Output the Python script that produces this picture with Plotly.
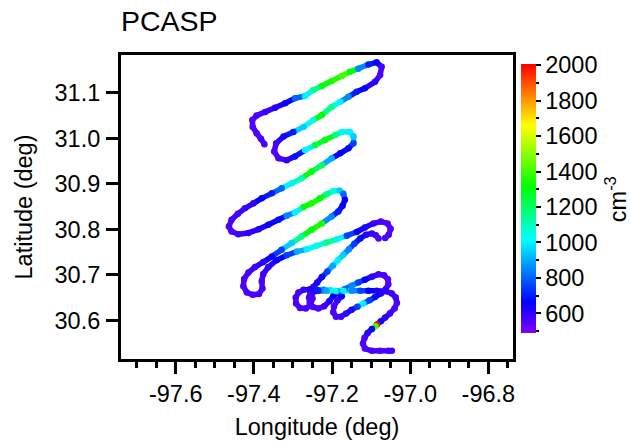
import plotly.graph_objects as go
from plotly.colors import sample_colorscale

# Flight track (longitude, latitude) and PCASP number concentration (cm^-3).
# None marks a short gap in the record.
lon = [
    -97.373, -97.382, -97.393, -97.403, -97.404, -97.393, -97.371, -97.346, -97.320, -97.295,
    -97.269, -97.248, -97.226, -97.201, -97.175, -97.154, -97.133, -97.107, -97.086, -97.073,
    -97.077, -97.090, -97.116, -97.137, -97.158, -97.179, -97.201, -97.226, -97.248, -97.273,
    -97.299, -97.324, -97.343, -97.348, -97.337, -97.316, -97.295, -97.269, -97.243, -97.218,
    -97.192, -97.175, -97.154, -97.145, -97.145, -97.158, -97.179, -97.201, -97.226, -97.252,
    -97.278, -97.303, -97.329, -97.354, -97.380, -97.401, -97.423, -97.441, -97.457, -97.464,
    -97.457, -97.440, -97.414, -97.388, -97.363, -97.337, -97.316, -97.295, -97.273, -97.252,
    -97.231, -97.214, -97.197, -97.181, -97.171, -97.167, -97.173, -97.184, -97.201, -97.226,
    -97.252, -97.278, -97.303, -97.329, -97.354, -97.376, -97.397, -97.414, -97.425, -97.427,
    -97.418, -97.403, -97.387, -97.378, -97.380, -97.376, -97.363, -97.342, -97.316, -97.290,
    -97.265, -97.239, -97.214, -97.188, -97.162, -97.137, -97.116, -97.094, -97.075, -97.058,
    -97.050, -97.055, -97.064,
    None,
    -97.081, -97.088, -97.098, -97.113, -97.128, -97.143, -97.157, -97.171, -97.185, -97.198,
    -97.212, -97.226, -97.238, -97.248, -97.255, -97.259, -97.257, -97.249, -97.235, -97.220,
    -97.207, -97.197, -97.184, -97.167, -97.150, -97.133, -97.116, -97.098, -97.081, -97.067,
    -97.057, -97.056, -97.063, -97.075, -97.090, -97.104, -97.120, -97.135, -97.150, -97.164,
    -97.177, -97.190, -97.197, -97.195, -97.186, -97.175, -97.188, -97.205, -97.222, -97.239,
    -97.256, -97.273, -97.286, -97.293, -97.292, -97.282, -97.267, -97.255, -97.250, -97.252,
    -97.235, -97.214, -97.192, -97.171, -97.150, -97.128, -97.107, -97.086, -97.064, -97.047,
    -97.037, -97.034, -97.040, -97.052, -97.064, -97.075, -97.085, -97.089, -97.098, -97.109,
    -97.117, -97.121, -97.116, -97.098, -97.077, -97.056, -97.047,
]
lat = [
    30.987, 30.999, 31.011, 31.025, 31.040, 31.050, 31.058, 31.067, 31.077, 31.088,
    31.093, 31.106, 31.115, 31.126, 31.137, 31.146, 31.153, 31.162, 31.167, 31.157,
    31.139, 31.124, 31.110, 31.102, 31.091, 31.080, 31.069, 31.051, 31.040, 31.025,
    31.014, 31.004, 30.989, 30.971, 30.956, 30.952, 30.960, 30.974, 30.985, 30.996,
    31.007, 31.014, 31.014, 31.004, 30.989, 30.978, 30.967, 30.956, 30.941, 30.927,
    30.912, 30.901, 30.890, 30.879, 30.868, 30.857, 30.846, 30.834, 30.821, 30.806,
    30.795, 30.789, 30.792, 30.800, 30.810, 30.821, 30.830, 30.837, 30.849, 30.857,
    30.868, 30.877, 30.884, 30.885, 30.878, 30.865, 30.852, 30.839, 30.828, 30.813,
    30.799, 30.784, 30.770, 30.755, 30.740, 30.728, 30.717, 30.705, 30.691, 30.675,
    30.661, 30.656, 30.658, 30.670, 30.686, 30.702, 30.717, 30.732, 30.743, 30.751,
    30.756, 30.764, 30.771, 30.778, 30.786, 30.794, 30.804, 30.813, 30.817, 30.813,
    30.801, 30.788, 30.781,
    None,
    30.780, 30.787, 30.791, 30.788, 30.780, 30.768, 30.756, 30.744, 30.732, 30.720,
    30.707, 30.695, 30.683, 30.673, 30.663, 30.650, 30.638, 30.629, 30.626, 30.631,
    30.642, 30.653, 30.662, 30.669, 30.676, 30.683, 30.689, 30.696, 30.701, 30.699,
    30.690, 30.679, 30.668, 30.659, 30.651, 30.644, 30.637, 30.630, 30.623, 30.615,
    30.608, 30.608, 30.618, 30.631, 30.644, 30.653, 30.664, 30.666, 30.667, 30.667,
    30.668, 30.667, 30.661, 30.650, 30.637, 30.627, 30.626, 30.634, 30.648, 30.660,
    30.665, 30.665, 30.665, 30.665, 30.665, 30.665, 30.665, 30.665, 30.664, 30.659,
    30.650, 30.638, 30.626, 30.615, 30.606, 30.598, 30.591, 30.587, 30.581, 30.572,
    30.561, 30.549, 30.538, 30.533, 30.533, 30.533, 30.533,
]
pcasp = [
    560, 560, 560, 550, 550, 560, 580, 620, 650, 800,
    1000, 1150, 1300, 1350, 1400, 1300, 850, 700, 650, 560,
    560, 600, 650, 700, 850, 1000, 1150, 1300, 1050, 950,
    700, 620, 560, 550, 560, 600, 680, 1000, 1250, 1300,
    1150, 1000, 1000, 950, 750, 650, 650, 900, 1200, 1300,
    1100, 1000, 800, 700, 650, 600, 580, 570, 560, 560,
    560, 580, 600, 620, 650, 680, 850, 1000, 1300, 1350,
    1300, 1150, 1050, 950, 800, 650, 650, 700, 850, 1350,
    1300, 1150, 950, 750, 650, 600, 580, 560, 560, 560,
    560, 560, 560, 560, 560, 580, 600, 650, 750, 900,
    1000, 1050, 1150, 1000, 750, 650, 620, 580, 560, 550,
    550, 560, 560,
    None,
    550, 560, 580, 620, 680, 750, 850, 950, 1000, 900,
    750, 650, 620, 600, 580, 560, 560, 560, 560, 580,
    620, 650, 750, 800, 850, 750, 650, 600, 570, 560,
    550, 550, 580, 620, 680, 750, 1000, 750, 620, 600,
    580, 560, 560, 560, 580, 650, 900, 1000, 850, 700,
    620, 580, 560, 560, 560, 560, 560, 560, 560, 580,
    700, 900, 1050, 1000, 850, 750, 650, 620, 600, 580,
    570, 560, 560, 580, 600, 650, 2000, 1400, 650, 600,
    560, 550, 550, 560, 560, 560, 560,
]

x_tickvals = [-97.6, -97.4, -97.2, -97.0, -96.8]
x_ticktext = ["-97.6", "-97.4", "-97.2", "-97.0", "-96.8"]
y_tickvals = [30.6, 30.7, 30.8, 30.9, 31.0, 31.1]
y_ticktext = ["30.6", "30.7", "30.8", "30.9", "31.0", "31.1"]
cb_major = [600, 800, 1000, 1200, 1400, 1600, 1800, 2000]
cb_minor = [500, 600, 700, 800, 900, 1000, 1100, 1200, 1300, 1400,
            1500, 1600, 1700, 1800, 1900, 2000]

CMIN, CMAX = 487, 2005
rainbow = [
    [0.0, "rgb(128,0,255)"],
    [0.114, "rgb(0,0,255)"],
    [0.348, "rgb(0,255,255)"],
    [0.545, "rgb(0,255,0)"],
    [0.772, "rgb(255,255,0)"],
    [1.0, "rgb(255,0,0)"],
]

FONT = "Liberation Sans, Arial, sans-serif"
FS = 23.5

fig = go.Figure()

# colored track segments
for i in range(len(lon) - 1):
    if lon[i] is None or lon[i + 1] is None:
        continue
    frac = (pcasp[i] - CMIN) / (CMAX - CMIN)
    frac = min(max(frac, 0.0), 1.0)
    col = sample_colorscale(rainbow, [frac])[0]
    fig.add_trace(go.Scatter(
        x=[lon[i], lon[i + 1]], y=[lat[i], lat[i + 1]],
        mode="lines", line=dict(color=col, width=5.5),
        hoverinfo="skip", showlegend=False,
    ))

pts = [(x, y, v) for x, y, v in zip(lon, lat, pcasp) if x is not None]
cb_common = dict(
    thickness=15, thicknessmode="pixels",
    len=269, lenmode="pixels",
    x=1.0204, xanchor="left", xpad=0,
    y=0.527, yanchor="middle", ypad=0,
    outlinewidth=0,
    ticks="outside", tickcolor="black", tickmode="array",
)

# invisible carrier for the minor colour-bar ticks
fig.add_trace(go.Scatter(
    x=[pts[0][0]], y=[pts[0][1]], mode="markers", showlegend=False,
    hoverinfo="skip",
    marker=dict(size=0.1, opacity=0, color=[pts[0][2]], colorscale=rainbow,
                cmin=CMIN, cmax=CMAX,
                colorbar=dict(cb_common, ticklen=3, tickwidth=2,
                              tickvals=cb_minor, showticklabels=False)),
))

# sample points (carry the main color bar)
fig.add_trace(go.Scatter(
    x=[p[0] for p in pts], y=[p[1] for p in pts],
    mode="markers", showlegend=False,
    marker=dict(
        size=6.5, color=[p[2] for p in pts], colorscale=rainbow,
        cmin=CMIN, cmax=CMAX,
        line=dict(width=0),
        colorbar=dict(cb_common, ticklen=5, tickwidth=2,
                      tickvals=cb_major,
                      tickfont=dict(size=FS, color="black", family=FONT)),
    ),
))

fig.add_annotation(
    text="cm<sup>-3</sup>", textangle=-90, showarrow=False,
    xref="paper", yref="paper", x=1.263, y=0.526,
    xanchor="center", yanchor="middle",
    font=dict(size=FS, color="black", family=FONT),
)

fig.update_layout(
    width=631, height=442,
    margin=dict(l=121, r=118, t=55, b=83, autoexpand=False),
    paper_bgcolor="white", plot_bgcolor="white",
    font=dict(family=FONT, color="black", size=FS),
    title=dict(text="PCASP", x=0.0, xref="paper", xanchor="left",
               y=1 - 21 / 442, yanchor="middle",
               font=dict(size=28.5, color="black", family=FONT)),
)

fig.update_xaxes(
    range=[-97.740, -96.737],
    showgrid=False, zeroline=False,
    showline=True, linecolor="black", linewidth=3, mirror=True,
    ticks="outside", ticklen=12, tickwidth=2.5, tickcolor="black",
    tickmode="array", tickvals=x_tickvals, ticktext=x_ticktext,
    ticklabelstandoff=0,
    tickfont=dict(size=FS, color="black", family=FONT),
    minor=dict(ticks="outside", ticklen=6, tickwidth=2.5, tickcolor="black",
               dtick=0.05, tick0=-97.6, showgrid=False),
    title=dict(text="Longitude (deg)", standoff=13,
               font=dict(size=FS, color="black", family=FONT)),
)
fig.update_yaxes(
    range=[30.515, 31.183],
    showgrid=False, zeroline=False,
    showline=True, linecolor="black", linewidth=3, mirror=True,
    ticks="outside", ticklen=12, tickwidth=2.5, tickcolor="black",
    tickmode="array", tickvals=y_tickvals, ticktext=y_ticktext,
    ticklabelstandoff=1,
    tickfont=dict(size=FS, color="black", family=FONT),
    title=dict(text="Latitude (deg)", standoff=16,
               font=dict(size=FS, color="black", family=FONT)),
)

fig.write_html(
    "out.html",
    config={"displayModeBar": False},
    post_script="document.body.style.margin='0px';document.body.style.padding='0px';",
)
